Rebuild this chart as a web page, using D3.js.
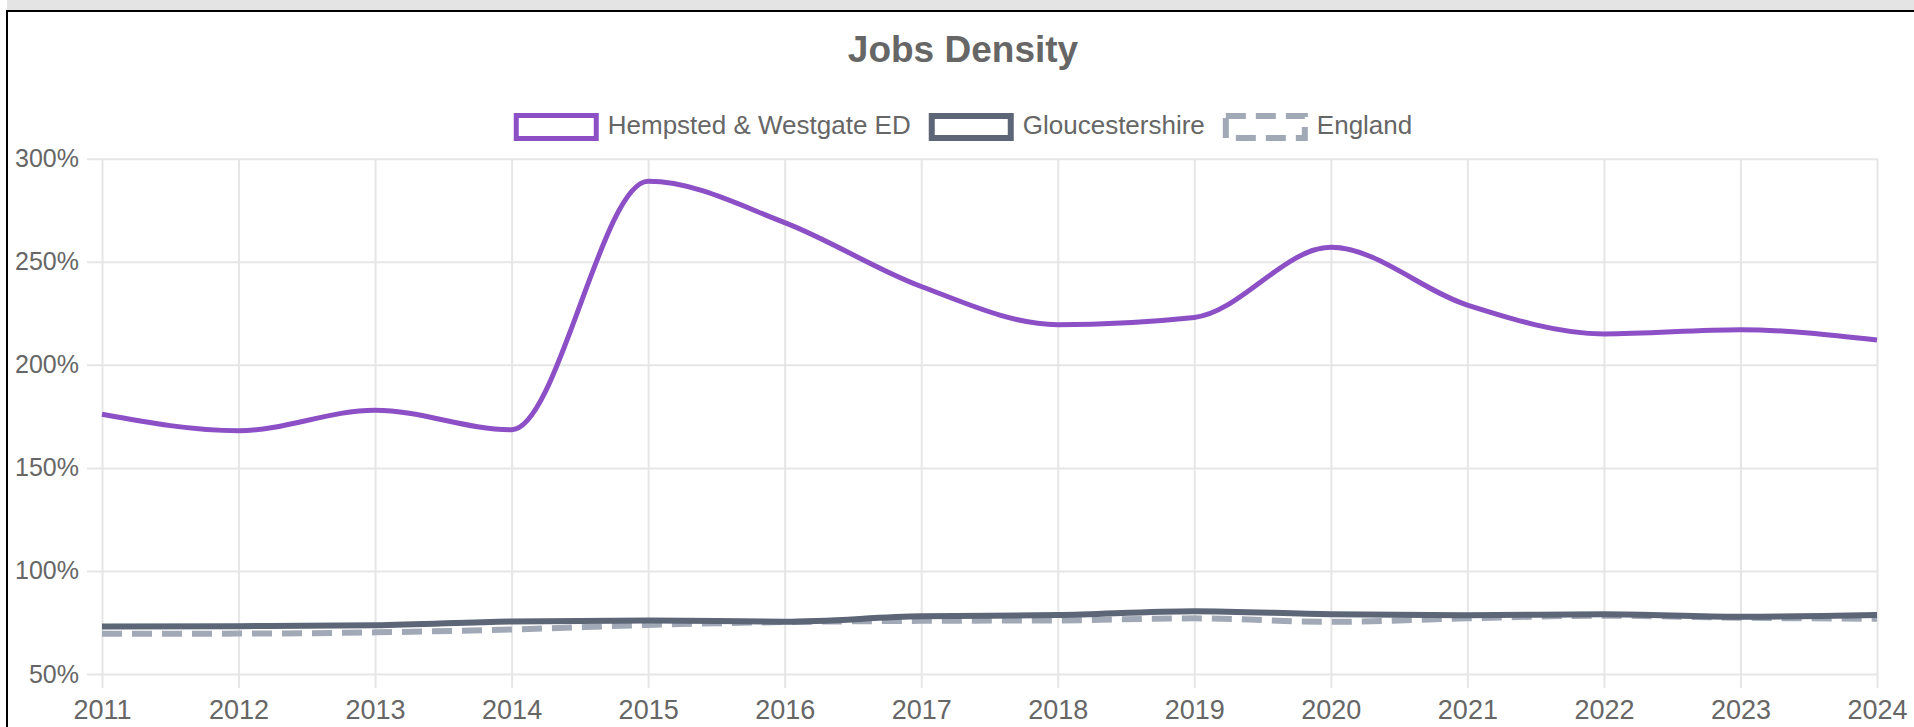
<!DOCTYPE html>
<html>
<head>
<meta charset="utf-8">
<script src="https://cdn.jsdelivr.net/npm/d3@7"></script>
<style>
  body { margin: 0; background: #fff; overflow: hidden; }
  text { font-family: "Liberation Sans", Arial, sans-serif; }
</style>
</head>
<body>
<script>
var years = [2011, 2012, 2013, 2014, 2015, 2016, 2017, 2018, 2019, 2020, 2021, 2022, 2023, 2024];
var hempsted = [176, 168, 178, 168.5, 289, 269, 238, 219.5, 223, 257, 229, 215, 217, 212];
var gloucestershire = [73, 73.2, 73.6, 75.5, 76, 75.4, 78, 78.6, 80.5, 79, 78.5, 79, 77.8, 78.6];
var england = [69.5, 69.6, 70.2, 71.6, 73.8, 75.2, 75.8, 76, 77, 75.3, 77, 78.3, 77.3, 76.8];
var yTicks = [50, 100, 150, 200, 250, 300];
var seriesNames = ["Hempsted & Westgate ED", "Gloucestershire", "England"];

var W = 1914, H = 727;
var plotLeft = 102, plotRight = 1877, plotTop = 158.7, plotBottom = 674;

var svg = d3.select("body").append("svg")
    .attr("width", W)
    .attr("height", H);

// page frame
svg.append("rect").attr("x", 7).attr("y", 0).attr("width", W - 7).attr("height", 10).attr("fill", "#e4e4e4");
svg.append("path").attr("d", "M7," + H + "V11H" + W).attr("fill", "none").attr("stroke", "#000").attr("stroke-width", 2);

var x = d3.scalePoint().domain(years).range([plotLeft, plotRight]);
var y = d3.scaleLinear().domain([50, 300]).range([plotBottom, plotTop]);

// y axis + horizontal grid
var yAxis = svg.append("g")
    .attr("transform", "translate(87,0)")
    .call(d3.axisLeft(y).tickValues(yTicks).tickSize(-(plotRight - 87)).tickPadding(8).tickFormat(function(d) { return d + "%"; }));
yAxis.select(".domain").remove();
yAxis.selectAll("line").attr("stroke", "#e6e6e6").attr("stroke-width", 2);
yAxis.selectAll("text").attr("fill", "#666").attr("font-size", 25);

// x axis + vertical grid
var xAxis = svg.append("g")
    .attr("transform", "translate(0,688)")
    .call(d3.axisBottom(x).tickSize(-(688 - plotTop)).tickPadding(12).tickFormat(function(d) { return d; }));
xAxis.select(".domain").remove();
xAxis.selectAll("line").attr("stroke", "#e6e6e6").attr("stroke-width", 2);
xAxis.selectAll("text").attr("fill", "#666").attr("font-size", 27);

var series = [
  {name: seriesNames[0], values: hempsted, color: "#8c4fc6", width: 5, dash: null},
  {name: seriesNames[1], values: gloucestershire, color: "#5c6677", width: 6, dash: null},
  {name: seriesNames[2], values: england, color: "#a1a8b6", width: 6, dash: "20,10"}
];

var line = d3.line()
    .x(function(d, i) { return x(years[i]); })
    .y(function(d) { return y(d); })
    .curve(d3.curveMonotoneX);

// draw last dataset first so the first one sits on top
series.slice().reverse().forEach(function(s) {
  svg.append("path")
      .attr("d", line(s.values))
      .attr("fill", "none")
      .attr("stroke", s.color)
      .attr("stroke-width", s.width)
      .attr("stroke-dasharray", s.dash)
      .attr("stroke-linejoin", "round");
});

// title
svg.append("text")
    .attr("x", 963)
    .attr("y", 62)
    .attr("text-anchor", "middle")
    .attr("font-size", 37)
    .attr("font-weight", "bold")
    .attr("fill", "#666")
    .text("Jobs Density");

// legend
var legend = svg.append("g");
var boxW = 85, boxH = 28, cx = 0;
series.forEach(function(s) {
  var g = legend.append("g").attr("transform", "translate(" + cx + ",0)");
  g.append("rect")
      .attr("x", s.width / 2).attr("y", 113 + s.width / 2)
      .attr("width", boxW - s.width).attr("height", boxH - s.width)
      .attr("fill", "#fff")
      .attr("stroke", s.color)
      .attr("stroke-width", s.width)
      .attr("stroke-dasharray", s.dash);
  var t = g.append("text")
      .attr("x", boxW + 9).attr("y", 134)
      .attr("font-size", 26)
      .attr("fill", "#666")
      .text(s.name);
  cx += boxW + 9 + t.node().getComputedTextLength() + 18;
});
var legendW = cx - 18;
legend.attr("transform", "translate(" + (963 - legendW / 2) + ",0)");
</script>
</body>
</html>
